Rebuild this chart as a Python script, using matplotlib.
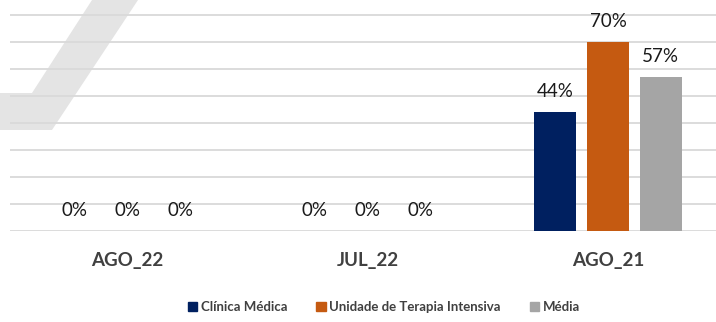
import matplotlib.pyplot as plt
from matplotlib.patches import Polygon, Patch
import numpy as np

plt.rcParams['font.family'] = ['Lato', 'DejaVu Sans']

periods = ['AGO_22', 'JUL_22', 'AGO_21']
series_names = ['Clínica Médica', 'Unidade de Terapia Intensiva', 'Média']
clinica = [0.00, 0.00, 0.44]
uti = [0.00, 0.00, 0.70]
media = [0.00, 0.00, 0.57]

colors = ['#002060', '#C55A11', '#A5A5A5']
W, H = 716, 322

fig = plt.figure(figsize=(W / 100, H / 100), dpi=100)
fig.patch.set_facecolor('white')

# light grey stripe in the upper-left corner, drawn in pixel coordinates
stripe = [(92, 0), (138, 0), (52, 130), (0, 130), (0, 93), (32, 93)]
stripe = [(x / W, 1 - y / H) for x, y in stripe]
fig.patches.append(Polygon(stripe, closed=True, transform=fig.transFigure,
                           fc='#e4e4e4', ec='none', zorder=-1))

base_px = 231
ax = fig.add_axes([10 / W, (H - base_px) / H, 1 - 10 / W, base_px / H])
ax.patch.set_alpha(0)

x = np.arange(len(periods))
width = 0.175
step = 0.22
for i, (vals, name) in enumerate(zip([clinica, uti, media], series_names)):
    pos = x + (i - 1) * step
    ax.bar(pos, vals, width, color=colors[i], label=name, zorder=3)
    for px_, v in zip(pos, vals):
        ax.annotate(f"{v:.0%}", (px_, v), xytext=(0, 15), textcoords='offset points',
                    ha='center', va='center', fontsize=13.5, color='#1a1a1a')

ax.set_xlim(-0.49, 2.45)
# 10% per 27 px, axes run up to the top edge
ax.set_ylim(0, base_px / 270)
for g in np.arange(0, 0.81, 0.1):
    ax.axhline(g, color='#d9d9d9', lw=1.3, zorder=1)

for s in ax.spines.values():
    s.set_visible(False)
ax.set_yticks([])
ax.set_xticks(x)
ax.set_xticklabels(periods, fontsize=13.5, fontweight='bold', color='#404040')
ax.tick_params(axis='x', length=0, pad=15)

handles = [Patch(color=c, label=n) for c, n in zip(colors, series_names)]
fig.legend(handles=handles, loc='lower center', bbox_to_anchor=(384 / W, -0.01),
           ncol=3, frameon=False, handlelength=0.7, handleheight=0.7,
           handletextpad=0.3, columnspacing=2.2,
           prop={'size': 9.5, 'weight': 'bold'}, labelcolor='#404040')

fig.savefig('out.png', dpi=100)
